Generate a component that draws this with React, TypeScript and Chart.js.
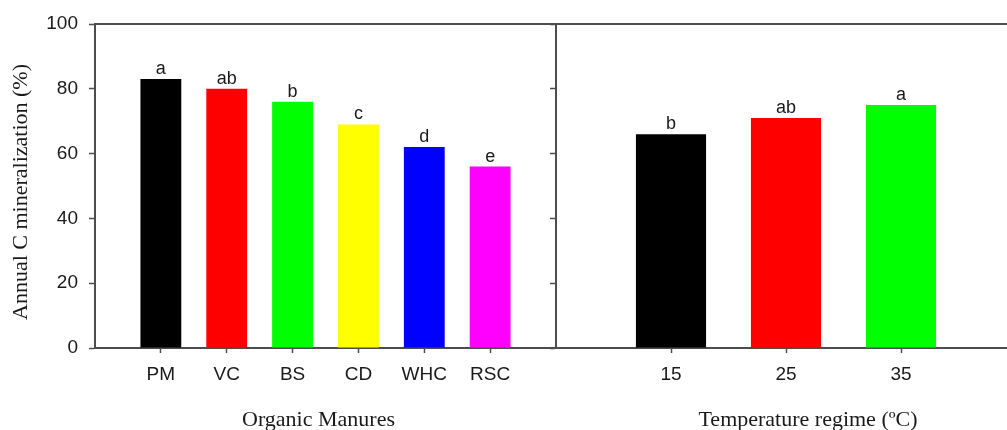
import React, { useEffect, useRef } from "react";
import { Chart, registerables } from "chart.js";

Chart.register(...registerables);

const leftCategories = ["PM", "VC", "BS", "CD", "WHC", "RSC"];
const leftValues = [83, 80, 76, 69, 62, 56];
const leftLetters = ["a", "ab", "b", "c", "d", "e"];
const leftColors = ["#000000", "#ff0000", "#00ff00", "#ffff00", "#0000ff", "#ff00ff"];

const rightCategories = [15, 25, 35];
const rightValues = [66, 71, 75];
const rightLetters = ["b", "ab", "a"];
const rightColors = ["#000000", "#ff0000", "#00ff00"];

const yTitle = "Annual C mineralization (%)";
const leftXTitle = "Organic Manures";
const rightXTitle = "Temperature regime (ºC)";

const LINE = "#4d4d4d";
const TEXT = "#1a1a1a";
const SANS = "'Liberation Sans', Arial, sans-serif";
const SERIF = "'Liberation Serif', 'Times New Roman', serif";

function lettersPlugin(letters: string[]) {
  return {
    id: "letters",
    afterDatasetsDraw(chart: any) {
      const ctx = chart.ctx;
      const meta = chart.getDatasetMeta(0);
      ctx.save();
      ctx.font = `18px ${SANS}`;
      ctx.fillStyle = TEXT;
      ctx.textAlign = "center";
      ctx.textBaseline = "alphabetic";
      meta.data.forEach((bar: any, i: number) => {
        ctx.fillText(letters[i], bar.x, bar.y - 5);
      });
      ctx.restore();
    },
  };
}

const topLinePlugin = {
  id: "topLine",
  afterDraw(chart: any) {
    const { ctx, chartArea } = chart;
    ctx.save();
    ctx.strokeStyle = LINE;
    ctx.lineWidth = 2;
    ctx.beginPath();
    ctx.moveTo(chartArea.left - 1, chartArea.top);
    ctx.lineTo(chartArea.right + 1, chartArea.top);
    ctx.stroke();
    ctx.restore();
  },
};

function titlesPlugin(opts: { y?: boolean; xTitle: string; xOffset: number }) {
  return {
    id: "titles",
    afterDraw(chart: any) {
      const { ctx, chartArea } = chart;
      ctx.save();
      ctx.fillStyle = TEXT;
      ctx.font = `22px ${SERIF}`;
      ctx.textAlign = "center";
      ctx.textBaseline = "middle";
      if (opts.y) {
        ctx.save();
        ctx.translate(21, (chartArea.top + chartArea.bottom) / 2 + 6);
        ctx.rotate(-Math.PI / 2);
        ctx.fillText(yTitle, 0, 0);
        ctx.restore();
      }
      ctx.fillText(opts.xTitle, (chartArea.left + chartArea.right) / 2 + opts.xOffset, chartArea.bottom + 72);
      ctx.restore();
    },
  };
}

function yScale(showLabels: boolean, width: number) {
  return {
    type: "linear",
    min: 0,
    max: 100,
    afterFit(scale: any) {
      scale.width = width;
    },
    ticks: {
      display: showLabels,
      stepSize: 20,
      padding: 11,
      color: TEXT,
      font: { family: SANS, size: 19 },
    },
    grid: {
      drawOnChartArea: false,
      drawTicks: true,
      tickLength: 6,
      tickColor: LINE,
      tickWidth: 1.5,
    },
    border: { display: true, color: LINE, width: 2 },
  };
}

function xScale(min: number, max: number, values: number[], labelFor: (v: number) => string) {
  return {
    type: "linear",
    min,
    max,
    offset: false,
    afterFit(scale: any) {
      scale.height = 82;
    },
    afterBuildTicks(scale: any) {
      scale.ticks = values.map((v) => ({ value: v }));
    },
    ticks: {
      padding: 10,
      color: TEXT,
      font: { family: SANS, size: 19 },
      callback: (v: any) => labelFor(Number(v)),
      autoSkip: false,
      maxRotation: 0,
    },
    grid: {
      offset: false,
      drawOnChartArea: false,
      drawTicks: true,
      tickLength: 5,
      tickColor: LINE,
      tickWidth: 1.5,
    },
    border: { display: true, color: LINE, width: 2 },
  };
}

export default function App() {
  const leftRef = useRef<HTMLCanvasElement | null>(null);
  const rightRef = useRef<HTMLCanvasElement | null>(null);

  useEffect(() => {
    const leftPositions = leftCategories.map((_, i) => i + 1);
    const left = new Chart(leftRef.current as HTMLCanvasElement, {
      type: "bar",
      data: {
        datasets: [
          {
            data: leftValues.map((v, i) => ({ x: leftPositions[i], y: v })),
            backgroundColor: leftColors,
            borderWidth: 0,
            barPercentage: 0.62,
            categoryPercentage: 1,
          },
        ],
      },
      options: {
        animation: false,
        responsive: false,
        devicePixelRatio: 1,
        layout: { padding: { left: 0, right: 4, top: 24, bottom: 0 } },
        plugins: { legend: { display: false }, tooltip: { enabled: false } },
        scales: {
          x: xScale(0, leftCategories.length + 1, leftPositions, (v) => leftCategories[v - 1] ?? ""),
          y: yScale(true, 95),
        },
      } as any,
      plugins: [lettersPlugin(leftLetters), topLinePlugin, titlesPlugin({ y: true, xTitle: leftXTitle, xOffset: -7 })],
    });

    const right = new Chart(rightRef.current as HTMLCanvasElement, {
      type: "bar",
      data: {
        datasets: [
          {
            data: rightValues.map((v, i) => ({ x: rightCategories[i], y: v })),
            backgroundColor: rightColors,
            borderWidth: 0,
            barPercentage: 0.61,
            categoryPercentage: 1,
          },
        ],
      },
      options: {
        animation: false,
        responsive: false,
        devicePixelRatio: 1,
        layout: { padding: { left: 0, right: 4, top: 24, bottom: 0 } },
        plugins: { legend: { display: false }, tooltip: { enabled: false } },
        scales: {
          x: xScale(5, 45, rightCategories, (v) => String(v)),
          y: yScale(false, 16),
        },
      } as any,
      plugins: [lettersPlugin(rightLetters), topLinePlugin, titlesPlugin({ y: false, xTitle: rightXTitle, xOffset: 22 })],
    });

    return () => {
      left.destroy();
      right.destroy();
    };
  }, []);

  return (
    <div
      style={{
        position: "absolute",
        left: 0,
        top: 0,
        width: 1007,
        height: 430,
        overflow: "hidden",
        background: "#ffffff",
      }}
    >
      <canvas ref={leftRef} width={560} height={430} style={{ position: "absolute", left: 0, top: 0 }} />
      <canvas ref={rightRef} width={480} height={430} style={{ position: "absolute", left: 540, top: 0 }} />
    </div>
  );
}
